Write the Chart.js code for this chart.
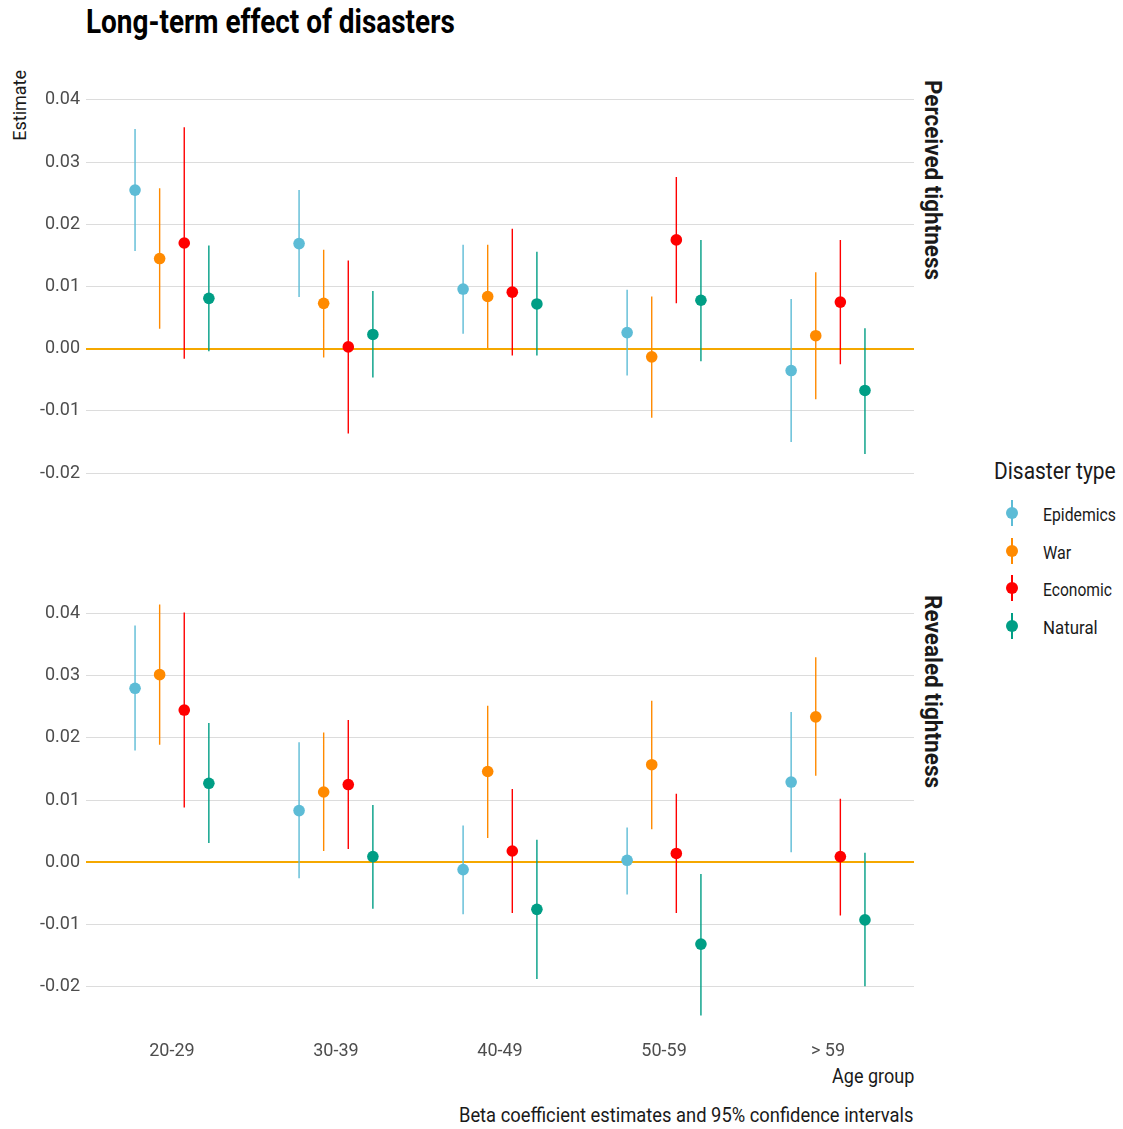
<!DOCTYPE html>
<html>
<head>
<meta charset="utf-8">
<script src="https://cdn.jsdelivr.net/npm/chart.js@4.4.1/dist/chart.umd.min.js"></script>
<style>
  html, body { margin:0; padding:0; background:#fff; }
  body { width:1123px; height:1129px; position:relative; overflow:hidden; font-family:Roboto,"Liberation Sans",sans-serif; }
  canvas { position:absolute; left:0; }
  .txt { position:absolute; white-space:nowrap; color:#1a1a1a; line-height:1; }
  #title { left:86px; top:5px; font-size:33px; font-weight:bold; color:#000; transform-origin:left center; }
  #ytitle { left:10px; top:70px; font-size:19px; writing-mode:vertical-rl; }
  .strip { font-size:23px; font-weight:bold; writing-mode:vertical-rl; left:921px; transform-origin:center top; }
  #legtitle { left:994px; top:460px; font-size:23px; transform-origin:left center; }
  .legitem { position:absolute; left:1000px; height:30px; width:120px; }
  .legitem .ln { position:absolute; left:11px; top:2px; width:1.5px; height:26px; }
  .legitem .dt { position:absolute; left:6px; top:9px; width:12px; height:12px; border-radius:50%; }
  .legitem .lb { position:absolute; left:43px; top:5px; font-size:19px; color:#1a1a1a; transform-origin:left center; }
  #xtitle { right:209px; top:1066px; font-size:20px; transform-origin:right center; }
  #caption { right:209px; top:1105px; font-size:20px; transform-origin:right center; }
</style>
</head>
<body>
<div id="title" class="txt">Long-term effect of disasters</div>
<div id="ytitle" class="txt">Estimate</div>
<div id="strip1" class="txt strip" style="top:80px;">Perceived tightness</div>
<div id="strip2" class="txt strip" style="top:595px;">Revealed tightness</div>
<div id="legtitle" class="txt">Disaster type</div>
<div id="legend"></div>
<div id="xtitle" class="txt">Age group</div>
<div id="caption" class="txt">Beta coefficient estimates and 95% confidence intervals</div>
<canvas id="c1" width="1123" height="560" style="top:0px"></canvas>
<canvas id="c2" width="1123" height="569" style="top:560px"></canvas>
<script>
// ---------- data ----------
const CATEGORIES = ['20-29', '30-39', '40-49', '50-59', '> 59'];
const SERIES = ['Epidemics', 'War', 'Economic', 'Natural'];
const Y_TICKS = [-0.02, -0.01, 0.00, 0.01, 0.02, 0.03, 0.04];

// Perceived tightness
const PERC_EPI_EST = [0.0255, 0.0169, 0.0096, 0.0026, -0.0035];
const PERC_EPI_LO  = [0.0157, 0.0083, 0.0024, -0.0043, -0.0150];
const PERC_EPI_HI  = [0.0353, 0.0255, 0.0167, 0.0095, 0.0080];
const PERC_WAR_EST = [0.0145, 0.0073, 0.0084, -0.0013, 0.0021];
const PERC_WAR_LO  = [0.0032, -0.0014, 0.0001, -0.0111, -0.0081];
const PERC_WAR_HI  = [0.0258, 0.0159, 0.0167, 0.0084, 0.0123];
const PERC_ECO_EST = [0.0170, 0.0003, 0.0091, 0.0175, 0.0075];
const PERC_ECO_LO  = [-0.0016, -0.0136, -0.0011, 0.0073, -0.0025];
const PERC_ECO_HI  = [0.0356, 0.0142, 0.0193, 0.0276, 0.0175];
const PERC_NAT_EST = [0.0081, 0.0023, 0.0072, 0.0078, -0.0067];
const PERC_NAT_LO  = [-0.0004, -0.0046, -0.0011, -0.0020, -0.0169];
const PERC_NAT_HI  = [0.0166, 0.0093, 0.0156, 0.0175, 0.0033];

// Revealed tightness
const REV_EPI_EST = [0.0280, 0.0083, -0.0012, 0.0003, 0.0129];
const REV_EPI_LO  = [0.0180, -0.0026, -0.0084, -0.0052, 0.0016];
const REV_EPI_HI  = [0.0381, 0.0193, 0.0059, 0.0056, 0.0242];
const REV_WAR_EST = [0.0302, 0.0113, 0.0146, 0.0157, 0.0234];
const REV_WAR_LO  = [0.0189, 0.0018, 0.0039, 0.0053, 0.0139];
const REV_WAR_HI  = [0.0415, 0.0209, 0.0252, 0.0260, 0.0330];
const REV_ECO_EST = [0.0245, 0.0125, 0.0018, 0.0014, 0.0009];
const REV_ECO_LO  = [0.0088, 0.0021, -0.0082, -0.0082, -0.0086];
const REV_ECO_HI  = [0.0402, 0.0229, 0.0118, 0.0110, 0.0102];
const REV_NAT_EST = [0.0127, 0.0009, -0.0076, -0.0132, -0.0093];
const REV_NAT_LO  = [0.0031, -0.0075, -0.0188, -0.0247, -0.0200];
const REV_NAT_HI  = [0.0224, 0.0092, 0.0036, -0.0019, 0.0015];

// ---------- styling ----------
const COLORS = ['#5DBCD6', '#FF8A00', '#FF0000', '#009E85'];
const DODGE = [-0.225, -0.075, 0.075, 0.225];
const TICK_COLOR = '#4D4D4D';
const FONT = 'Roboto, "Liberation Sans", sans-serif';

const PERCEIVED = [
  [PERC_EPI_EST, PERC_EPI_LO, PERC_EPI_HI],
  [PERC_WAR_EST, PERC_WAR_LO, PERC_WAR_HI],
  [PERC_ECO_EST, PERC_ECO_LO, PERC_ECO_HI],
  [PERC_NAT_EST, PERC_NAT_LO, PERC_NAT_HI]
];
const REVEALED = [
  [REV_EPI_EST, REV_EPI_LO, REV_EPI_HI],
  [REV_WAR_EST, REV_WAR_LO, REV_WAR_HI],
  [REV_ECO_EST, REV_ECO_LO, REV_ECO_HI],
  [REV_NAT_EST, REV_NAT_LO, REV_NAT_HI]
];

// legend
const legend = document.getElementById('legend');
const legLabels = [];
SERIES.forEach((name, i) => {
  const d = document.createElement('div');
  d.className = 'legitem';
  d.style.top = (498 + i * 37.7) + 'px';
  d.innerHTML = '<div class="ln" style="background:' + COLORS[i] + '"></div>' +
                '<div class="dt" style="background:' + COLORS[i] + '"></div>' +
                '<div class="lb">' + name + '</div>';
  legend.appendChild(d);
  legLabels.push(d.querySelector('.lb'));
});

// condense text to the reference's narrow typeface widths
function fitX(el, target) { el.style.transform = 'scaleX(' + (target / el.offsetWidth) + ')'; }
function fitY(el, target) { el.style.transform = 'scaleY(' + (target / el.offsetHeight) + ')'; }
fitX(document.getElementById('title'), 369);
fitX(document.getElementById('legtitle'), 122);
fitX(document.getElementById('xtitle'), 82);
fitX(document.getElementById('caption'), 455);
fitY(document.getElementById('strip1'), 200);
fitY(document.getElementById('strip2'), 193);
const LEG_W = [73, 28, 69, 55];
legLabels.forEach((el, i) => fitX(el, LEG_W[i]));
(function () {
  const el = document.getElementById('ytitle');
  const h = el.offsetHeight;
  el.style.top = (105.5 - h / 2) + 'px';
  el.style.transform = 'rotate(180deg) scaleY(' + (71 / h) + ')';
})();

function buildDatasets(panel) {
  const ds = [];
  panel.forEach((s, si) => {
    const [est, lo, hi] = s;
    const bars = [];
    CATEGORIES.forEach((c, ci) => {
      const x = ci + DODGE[si];
      bars.push({x: x, y: lo[ci]}, {x: x, y: hi[ci]}, {x: x, y: null});
    });
    ds.push({
      label: SERIES[si] + ' CI', data: bars, borderColor: COLORS[si], borderWidth: 1.4,
      pointRadius: 0, spanGaps: false, showLine: true, order: 2, fill: false
    });
    ds.push({
      label: SERIES[si], data: est.map((v, ci) => ({x: ci + DODGE[si], y: v})),
      showLine: false, pointRadius: 5.8, pointHoverRadius: 5.8, pointBorderWidth: 0,
      backgroundColor: COLORS[si], pointBackgroundColor: COLORS[si], borderColor: COLORS[si], order: 1
    });
  });
  return ds;
}

function makeChart(id, panel, showX, padding) {
  return new Chart(document.getElementById(id), {
    type: 'line',
    data: { datasets: buildDatasets(panel) },
    options: {
      responsive: false, animation: false, events: [],
      layout: { padding: padding },
      plugins: { legend: { display: false }, tooltip: { enabled: false }, title: { display: false } },
      scales: {
        x: {
          type: 'linear', min: -0.524, max: 4.524, display: showX,
          afterBuildTicks: sc => { sc.ticks = CATEGORIES.map((c, i) => ({value: i})); },
          afterFit: sc => { sc.height = showX ? 40 : 0; },
          ticks: { callback: (v) => CATEGORIES[v], color: TICK_COLOR, padding: 5,
                   font: { family: FONT, size: 18 }, maxRotation: 0, autoSkip: false },
          grid: { display: false, drawTicks: false },
          border: { display: false }
        },
        y: {
          type: 'linear', min: -0.028, max: 0.0448,
          afterBuildTicks: sc => { sc.ticks = Y_TICKS.map(v => ({value: v})); },
          afterFit: sc => { sc.width = 86; },
          ticks: { callback: v => v.toFixed(2), color: TICK_COLOR, padding: 6,
                   font: { family: FONT, size: 18 } },
          grid: {
            drawTicks: false,
            color: ctx => (ctx.tick && Math.abs(ctx.tick.value) < 1e-9) ? '#F5A800' : '#DCDCDC',
            lineWidth: ctx => (ctx.tick && Math.abs(ctx.tick.value) < 1e-9) ? 2 : 1
          },
          border: { display: false }
        }
      }
    }
  });
}

makeChart('c1', PERCEIVED, false, { left: 0, right: 209, top: 70, bottom: 37 });
makeChart('c2', REVEALED, true, { left: 0, right: 209, top: 24, bottom: 53 });
</script>
</body>
</html>
